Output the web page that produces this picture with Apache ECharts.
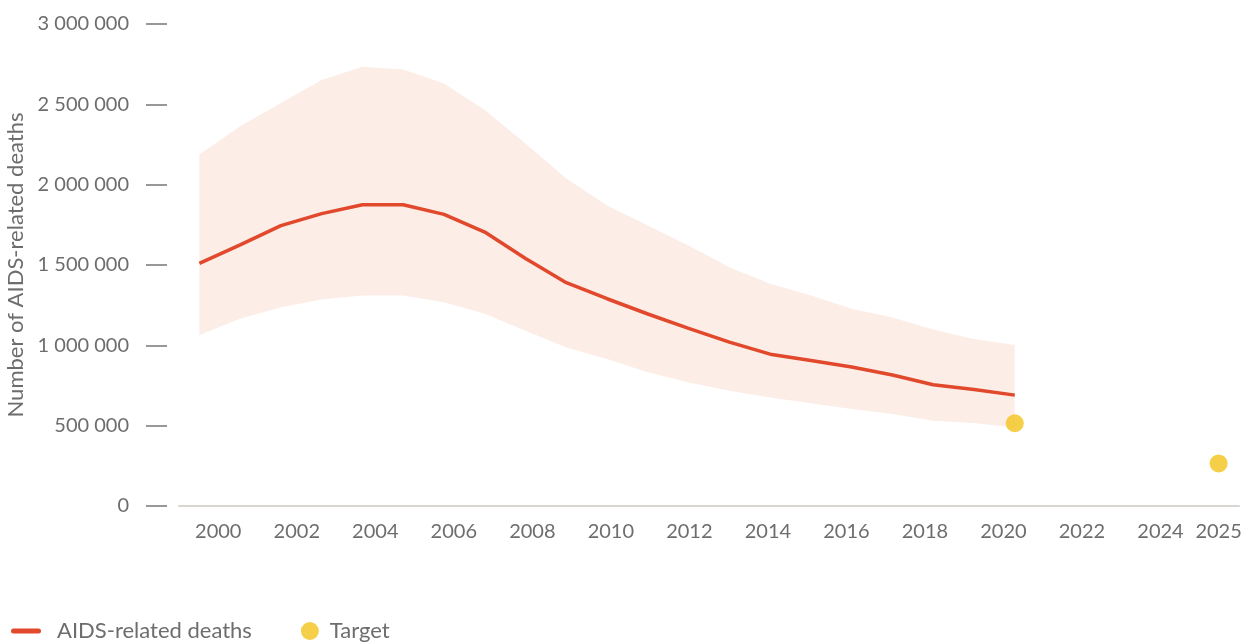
<!DOCTYPE html>
<html>
<head>
<meta charset="utf-8">
<script src="https://cdn.jsdelivr.net/npm/echarts@6/dist/echarts.min.js"></script>
<style>
  html, body { margin: 0; padding: 0; background: #fff; }
  #chart { width: 1243px; height: 642px; }
</style>
</head>
<body>
<div id="chart"></div>
<script>
// categories on the x axis (one per year)
const categories = ['2000', '2001', '2002', '2003', '2004', '2005', '2006', '2007', '2008', '2009', '2010',
  '2011', '2012', '2013', '2014', '2015', '2016', '2017', '2018', '2019', '2020',
  '2021', '2022', '2023', '2024', '2025']
// AIDS-related deaths, central estimate 2000-2020
const deaths = [1510000, 1625000, 1745000, 1820000, 1875000, 1875000, 1815000, 1705000, 1540000, 1390000, 1290000,
  1195000, 1105000, 1020000, 945000, 905000, 865000, 815000, 755000, 725000, 690000]
// uncertainty bounds 2000-2020
const deathsUpper = [2187000, 2364000, 2509000, 2651000, 2734000, 2717000, 2630000, 2464000, 2256000, 2038000, 1871000,
  1746000, 1622000, 1486000, 1383000, 1310000, 1227000, 1174000, 1098000, 1040000, 1002000]
const deathsLower = [1065000, 1166000, 1237000, 1285000, 1310000, 1310000, 1268000, 1196000, 1091000, 987000, 915000,
  832000, 769000, 717000, 676000, 639000, 603000, 572000, 530000, 516000, 488000]
// targets
const targetYears = ['2020', '2025']
const targetValues = [515000, 265000]
// tick labels
const xTickYears = [2000, 2002, 2004, 2006, 2008, 2010, 2012, 2014, 2016, 2018, 2020, 2022, 2024]
const xEndLabel = '2025'
const yTicks = [0, 500000, 1000000, 1500000, 2000000, 2500000, 3000000]

const grey = '#6d6d6d'
const fontFamily = 'Lato, "Noto Sans", sans-serif'

let myChart = echarts.init(document.getElementById('chart'))
myChart.setOption({
  animation: false,
  textStyle: { fontFamily: fontFamily },
  grid: { left: 179, right: 4, top: 24, bottom: 136, containLabel: false, outerBoundsMode: 'none' },
  legend: {
    left: 6,
    top: 615,
    itemWidth: 30,
    itemHeight: 18,
    itemGap: 49,
    textStyle: { fontSize: 22, color: grey, fontFamily: fontFamily },
    data: [
      {
        name: 'AIDS-related deaths',
        icon: 'path://M2.5,0 L27.5,0 A2.5,2.5 0 0 1 27.5,5 L2.5,5 A2.5,2.5 0 0 1 2.5,0 Z',
        itemStyle: { color: '#e2482b' },
        textStyle: { padding: [0, 0, 0, 11] }
      },
      { name: 'Target', icon: 'circle', itemStyle: { color: '#f2c31a' } }
    ]
  },
  xAxis: [
    {
      // data axis: one band per year
      type: 'category',
      position: 'bottom',
      boundaryGap: true,
      data: categories,
      axisLine: { show: true, onZero: false, lineStyle: { color: '#d9d5d1', width: 2 } },
      axisTick: { show: false },
      splitLine: { show: false },
      axisLabel: {
        interval: (index, value) => value === xEndLabel,
        margin: 16,
        fontSize: 20,
        color: grey
      }
    },
    {
      // label axis for the even years
      type: 'value',
      position: 'bottom',
      min: 1999,
      max: 2026,
      axisLine: { show: false },
      axisTick: { show: false },
      splitLine: { show: false },
      axisLabel: {
        customValues: xTickYears,
        margin: 16,
        fontSize: 20,
        color: grey,
        formatter: v => String(Math.round(v))
      }
    }
  ],
  yAxis: {
    type: 'value',
    min: 0,
    max: 3000000,
    offset: 12,
    name: 'Number of AIDS-related deaths',
    nameLocation: 'middle',
    nameGap: 139,
    nameTextStyle: { fontSize: 22, color: grey },
    axisLine: { show: false },
    axisTick: { show: true, length: 21, lineStyle: { color: '#777', width: 1.5 }, customValues: yTicks },
    splitLine: { show: false },
    axisLabel: {
      customValues: yTicks,
      margin: 38,
      fontSize: 20,
      color: grey,
      formatter: v => String(v).replace(/\B(?=(\d{3})+(?!\d))/g, ' ')
    }
  },
  series: [
    {
      name: 'band-lower',
      type: 'line',
      xAxisIndex: 0,
      stack: 'band',
      symbol: 'none',
      silent: true,
      lineStyle: { opacity: 0 },
      data: deathsLower
    },
    {
      name: 'band-range',
      type: 'line',
      xAxisIndex: 0,
      stack: 'band',
      symbol: 'none',
      silent: true,
      lineStyle: { opacity: 0 },
      areaStyle: { color: '#fcede7', opacity: 1 },
      data: deathsUpper.map((v, i) => v - deathsLower[i])
    },
    {
      name: 'AIDS-related deaths',
      type: 'line',
      xAxisIndex: 0,
      symbol: 'none',
      color: '#e2482b',
      lineStyle: { color: '#e2482b', width: 3.5 },
      data: deaths
    },
    {
      name: 'Target',
      type: 'scatter',
      xAxisIndex: 0,
      z: 5,
      symbolSize: 18,
      color: '#f2c31a',
      itemStyle: { color: '#f2c31a' },
      data: targetYears.map((y, i) => [y, targetValues[i]])
    }
  ]
})
</script>
</body>
</html>
